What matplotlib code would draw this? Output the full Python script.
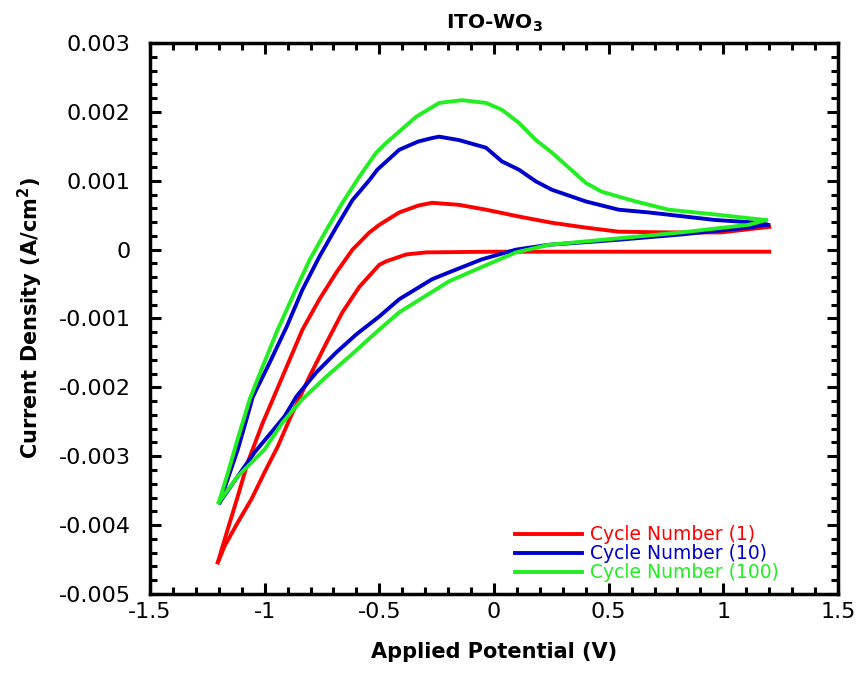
import matplotlib
matplotlib.use("Agg")
import matplotlib.pyplot as plt
from matplotlib.ticker import MultipleLocator, FuncFormatter

plt.rcParams["font.family"] = ["DejaVu Sans"]
plt.rcParams["axes.unicode_minus"] = False
plt.rcParams["mathtext.default"] = "regular"

# cycle 1 (red): anodic branch up to the peak, then the flat cathodic branch
x_c1_up = [-1.204, -1.161, -1.117, -1.074, -1.009, -0.978, -0.904, -0.835, -0.761, -0.687,
           -0.617, -0.543, -0.500, -0.413, -0.330, -0.270, -0.152, -0.035, 0.109, 0.252,
           0.400, 0.543, 0.761, 0.991, 1.2]
y_c1_up = [-0.00454, -0.00406, -0.00358, -0.00309, -0.00252, -0.00228, -0.00170, -0.00116, -0.00072, -0.00033,
           0.0, 0.00025, 0.00036, 0.00054, 0.00064, 0.00068, 0.00065, 0.00058, 0.00048, 0.00039,
           0.00032, 0.00026, 0.00025, 0.00025, 0.00033]
x_c1_dn = [-1.204, -1.174, -1.117, -1.057, -1.0, -0.943, -0.891, -0.804, -0.730, -0.661,
           -0.587, -0.500, -0.470, -0.383, -0.296, 0.0, 0.5, 1.0, 1.2]
y_c1_dn = [-0.00454, -0.0043, -0.00396, -0.00362, -0.00323, -0.00286, -0.00246, -0.00184, -0.00135, -0.00091,
           -0.00054, -0.00022, -0.00017, -0.00007, -0.00004, -0.00003, -0.00003, -0.00003, -0.00003]

# cycle 10 (blue)
x_c10_up = [-1.196, -1.161, -1.117, -1.078, -1.052, -0.978, -0.904, -0.835, -0.761, -0.687,
            -0.617, -0.543, -0.509, -0.413, -0.330, -0.270, -0.239, -0.152, -0.035, 0.035,
            0.109, 0.183, 0.252, 0.400, 0.543, 0.674, 0.965, 1.152, 1.196]
y_c10_up = [-0.00367, -0.00333, -0.00290, -0.00245, -0.00214, -0.00164, -0.00112, -0.00058, -0.0001, 0.00033,
            0.00072, 0.00101, 0.00116, 0.00145, 0.00157, 0.00162, 0.00164, 0.00159, 0.00148, 0.00128,
            0.00116, 0.00099, 0.00087, 0.00070, 0.00058, 0.00054, 0.00043, 0.00039, 0.00036]
x_c10_dn = [-1.196, -1.117, -1.043, -0.970, -0.913, -0.861, -0.774, -0.687, -0.600, -0.500,
            -0.413, -0.270, -0.196, -0.052, 0.096, 0.239, 0.530, 0.817, 1.109, 1.187]
y_c10_dn = [-0.00367, -0.00329, -0.00294, -0.00265, -0.00242, -0.00213, -0.00178, -0.00149, -0.00123, -0.00097,
            -0.00072, -0.00043, -0.00033, -0.00014, 0.0, 0.00007, 0.00014, 0.00022, 0.00032, 0.00036]

# cycle 100 (green)
x_c100_up = [-1.2, -1.161, -1.122, -1.065, -1.009, -0.948, -0.878, -0.804, -0.730,
             -0.661, -0.587, -0.513, -0.470, -0.339, -0.239, -0.139, -0.035, 0.035, 0.109,
             0.183, 0.252, 0.326, 0.400, 0.470, 0.617, 0.761, 0.965, 1.183]
y_c100_up = [-0.00367, -0.00325, -0.00280, -0.00217, -0.0017, -0.0012, -0.00068, -0.00015, 0.00029,
             0.00068, 0.00106, 0.00141, 0.00155, 0.00193, 0.00213, 0.00217, 0.00213, 0.00203, 0.00184,
             0.00159, 0.00141, 0.00119, 0.00097, 0.00084, 0.00070, 0.00058, 0.00051, 0.00043]
x_c100_dn = [-1.2, -1.117, -1.0, -0.922, -0.835, -0.730, -0.630, -0.500, -0.413, -0.196,
             -0.052, 0.096, 0.239, 0.530, 0.817, 1.109, 1.187]
y_c100_dn = [-0.00367, -0.00329, -0.0029, -0.00251, -0.00217, -0.00184, -0.00155, -0.00116, -0.00091, -0.00046,
             -0.00025, -0.00004, 0.00007, 0.00016, 0.00025, 0.00036, 0.00043]

fig = plt.figure(figsize=(8.58, 6.73), dpi=100)
ax = fig.add_axes([0.1748, 0.1174, 0.8019, 0.8187])

lw = 2.8
ax.plot(x_c1_up, y_c1_up, color="#ff0000", lw=lw, label="Cycle Number (1)")
ax.plot(x_c1_dn, y_c1_dn, color="#ff0000", lw=lw)
ax.plot(x_c10_up, y_c10_up, color="#0000cc", lw=lw, label="Cycle Number (10)")
ax.plot(x_c10_dn, y_c10_dn, color="#0000cc", lw=lw)
ax.plot(x_c100_up, y_c100_up, color="#22ee22", lw=lw, label="Cycle Number (100)")
ax.plot(x_c100_dn, y_c100_dn, color="#22ee22", lw=lw)

ax.set_xlim(-1.5, 1.5)
ax.set_ylim(-0.005, 0.003)
ax.xaxis.set_major_locator(MultipleLocator(0.5))
ax.xaxis.set_minor_locator(MultipleLocator(0.1))
ax.yaxis.set_major_locator(MultipleLocator(0.001))
ax.yaxis.set_minor_locator(MultipleLocator(0.0002))
ax.xaxis.set_major_formatter(FuncFormatter(lambda v, p: "0" if abs(v) < 1e-9 else f"{v:g}"))
ax.yaxis.set_major_formatter(FuncFormatter(lambda v, p: "0" if abs(v) < 1e-9 else f"{v:.3f}"))

ax.tick_params(which="both", direction="in", top=True, right=True, width=2.2, labelsize=16)
ax.tick_params(which="major", length=8)
ax.tick_params(which="minor", length=5)
ax.tick_params(axis="x", which="major", pad=6)
ax.tick_params(axis="y", which="major", pad=14)
for s in ax.spines.values():
    s.set_linewidth(2.5)

ax.set_xlabel("Applied Potential (V)", fontsize=15, fontweight="bold", labelpad=14)
ax.set_ylabel("Current Density (A/cm$^2$)", fontsize=15, fontweight="bold", labelpad=10)
ax.set_title("ITO-WO$_3$", fontsize=14.5, fontweight="bold", pad=10)

leg = ax.legend(loc="upper left", frameon=False, fontsize=13.5, handlelength=3.6,
                handletextpad=0.4, labelspacing=0.0, borderpad=0, borderaxespad=0,
                bbox_to_anchor=(0.5305, 0.125))
for line, text in zip(leg.get_lines(), leg.get_texts()):
    text.set_color(line.get_color())

fig.savefig("out.png", dpi=100)
